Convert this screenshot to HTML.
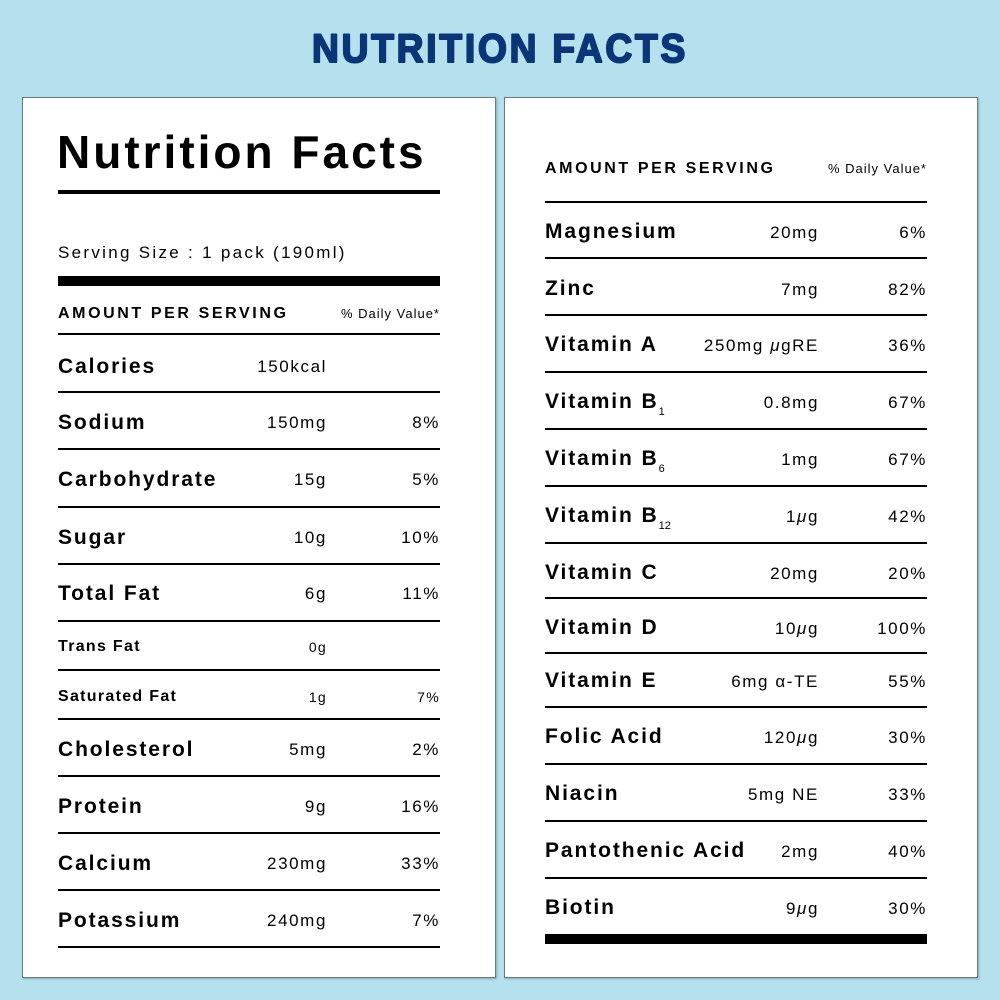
<!DOCTYPE html>
<html><head><meta charset="utf-8"><style>
body{margin:0;width:1000px;height:1000px;background:#b5e0ed;position:relative;overflow:hidden;font-family:"Liberation Sans",sans-serif;color:#000}
.p{position:absolute;background:#fff;border:1px solid #6f7a80;box-shadow:1px 1px 2px rgba(0,0,0,.25)}
.a{position:absolute;white-space:nowrap;height:30px;line-height:30px;margin-top:2px}
.l{font-size:21px;font-weight:bold;letter-spacing:1.9px}
.s{font-size:16px;font-weight:bold;letter-spacing:1.3px}
.v{font-size:17px;letter-spacing:1.6px;text-align:right}
.vs{font-size:14px;letter-spacing:1.3px;text-align:right}
.h{position:absolute;background:#000}
sub{font-size:11px;font-weight:normal;vertical-align:-7px;line-height:0;letter-spacing:0}
</style></head><body>
<svg style="position:absolute;left:0;top:0" width="1000" height="90"><text x="500" y="62" text-anchor="middle" textLength="376" lengthAdjust="spacingAndGlyphs" font-family="Liberation Sans" font-weight="bold" font-size="40" letter-spacing="3" fill="#0b3577" stroke="#0b3577" stroke-width="2" stroke-linejoin="round">NUTRITION FACTS</text></svg>
<div class="p" style="left:22px;top:97px;width:472px;height:879px"></div>
<div class="p" style="left:504px;top:97px;width:472px;height:879px"></div>

<!-- left -->
<div class="a" style="left:57px;top:123px;height:54px;line-height:54px;font-size:46px;font-weight:bold;letter-spacing:3px">Nutrition Facts</div>
<div class="h" style="left:58px;top:190px;width:382px;height:4px"></div>
<div class="a" style="left:58px;top:236px;font-size:17px;letter-spacing:2.3px">Serving Size : 1 pack (190ml)</div>
<div class="h" style="left:58px;top:276px;width:382px;height:10px"></div>
<div class="a" style="left:58px;top:297px;font-size:16px;font-weight:bold;letter-spacing:2.6px">AMOUNT PER SERVING</div>
<div class="a" style="right:560px;top:297px;font-size:13px;letter-spacing:1px">% Daily Value*</div>
<div class="h" style="left:58px;top:333px;width:382px;height:2px"></div>

<div class="a l" style="left:58px;top:350px">Calories</div><div class="a v" style="right:673px;top:350px">150kcal</div>
<div class="h" style="left:58px;top:391px;width:382px;height:2px"></div>
<div class="a l" style="left:58px;top:406px">Sodium</div><div class="a v" style="right:673px;top:406px">150mg</div><div class="a v" style="right:560px;top:406px">8%</div>
<div class="h" style="left:58px;top:448px;width:382px;height:2px"></div>
<div class="a l" style="left:58px;top:463px">Carbohydrate</div><div class="a v" style="right:673px;top:463px">15g</div><div class="a v" style="right:560px;top:463px">5%</div>
<div class="h" style="left:58px;top:506px;width:382px;height:2px"></div>
<div class="a l" style="left:58px;top:521px">Sugar</div><div class="a v" style="right:673px;top:521px">10g</div><div class="a v" style="right:560px;top:521px">10%</div>
<div class="h" style="left:58px;top:563px;width:382px;height:2px"></div>
<div class="a l" style="left:58px;top:577px">Total Fat</div><div class="a v" style="right:673px;top:577px">6g</div><div class="a v" style="right:560px;top:577px">11%</div>
<div class="h" style="left:58px;top:620px;width:382px;height:2px"></div>
<div class="a s" style="left:58px;top:630px">Trans Fat</div><div class="a vs" style="right:673px;top:630px">0g</div>
<div class="h" style="left:58px;top:669px;width:382px;height:2px"></div>
<div class="a s" style="left:58px;top:680px">Saturated Fat</div><div class="a vs" style="right:673px;top:680px">1g</div><div class="a vs" style="right:560px;top:680px">7%</div>
<div class="h" style="left:58px;top:718px;width:382px;height:2px"></div>
<div class="a l" style="left:58px;top:733px">Cholesterol</div><div class="a v" style="right:673px;top:733px">5mg</div><div class="a v" style="right:560px;top:733px">2%</div>
<div class="h" style="left:58px;top:775px;width:382px;height:2px"></div>
<div class="a l" style="left:58px;top:790px">Protein</div><div class="a v" style="right:673px;top:790px">9g</div><div class="a v" style="right:560px;top:790px">16%</div>
<div class="h" style="left:58px;top:832px;width:382px;height:2px"></div>
<div class="a l" style="left:58px;top:847px">Calcium</div><div class="a v" style="right:673px;top:847px">230mg</div><div class="a v" style="right:560px;top:847px">33%</div>
<div class="h" style="left:58px;top:889px;width:382px;height:2px"></div>
<div class="a l" style="left:58px;top:904px">Potassium</div><div class="a v" style="right:673px;top:904px">240mg</div><div class="a v" style="right:560px;top:904px">7%</div>
<div class="h" style="left:58px;top:946px;width:382px;height:2px"></div>

<!-- right -->
<div class="a" style="left:545px;top:152px;font-size:16px;font-weight:bold;letter-spacing:2.6px">AMOUNT PER SERVING</div>
<div class="a" style="right:73px;top:152px;font-size:13px;letter-spacing:1px">% Daily Value*</div>
<div class="h" style="left:545px;top:201px;width:382px;height:2px"></div>
<div class="a l" style="left:545px;top:215px">Magnesium</div><div class="a v" style="right:181px;top:216px">20mg</div><div class="a v" style="right:73px;top:216px">6%</div>
<div class="h" style="left:545px;top:257px;width:382px;height:2px"></div>
<div class="a l" style="left:545px;top:272px">Zinc</div><div class="a v" style="right:181px;top:273px">7mg</div><div class="a v" style="right:73px;top:273px">82%</div>
<div class="h" style="left:545px;top:314px;width:382px;height:2px"></div>
<div class="a l" style="left:545px;top:328px">Vitamin A</div><div class="a v" style="right:181px;top:329px">250mg <i>μ</i>gRE</div><div class="a v" style="right:73px;top:329px">36%</div>
<div class="h" style="left:545px;top:371px;width:382px;height:2px"></div>
<div class="a l" style="left:545px;top:385px">Vitamin B<sub>1</sub></div><div class="a v" style="right:181px;top:386px">0.8mg</div><div class="a v" style="right:73px;top:386px">67%</div>
<div class="h" style="left:545px;top:428px;width:382px;height:2px"></div>
<div class="a l" style="left:545px;top:442px">Vitamin B<sub>6</sub></div><div class="a v" style="right:181px;top:443px">1mg</div><div class="a v" style="right:73px;top:443px">67%</div>
<div class="h" style="left:545px;top:485px;width:382px;height:2px"></div>
<div class="a l" style="left:545px;top:499px">Vitamin B<sub>12</sub></div><div class="a v" style="right:181px;top:500px">1<i>μ</i>g</div><div class="a v" style="right:73px;top:500px">42%</div>
<div class="h" style="left:545px;top:542px;width:382px;height:2px"></div>
<div class="a l" style="left:545px;top:556px">Vitamin C</div><div class="a v" style="right:181px;top:557px">20mg</div><div class="a v" style="right:73px;top:557px">20%</div>
<div class="h" style="left:545px;top:597px;width:382px;height:2px"></div>
<div class="a l" style="left:545px;top:611px">Vitamin D</div><div class="a v" style="right:181px;top:612px">10<i>μ</i>g</div><div class="a v" style="right:73px;top:612px">100%</div>
<div class="h" style="left:545px;top:652px;width:382px;height:2px"></div>
<div class="a l" style="left:545px;top:664px">Vitamin E</div><div class="a v" style="right:181px;top:665px">6mg α-TE</div><div class="a v" style="right:73px;top:665px">55%</div>
<div class="h" style="left:545px;top:706px;width:382px;height:2px"></div>
<div class="a l" style="left:545px;top:720px">Folic Acid</div><div class="a v" style="right:181px;top:721px">120<i>μ</i>g</div><div class="a v" style="right:73px;top:721px">30%</div>
<div class="h" style="left:545px;top:763px;width:382px;height:2px"></div>
<div class="a l" style="left:545px;top:777px">Niacin</div><div class="a v" style="right:181px;top:778px">5mg NE</div><div class="a v" style="right:73px;top:778px">33%</div>
<div class="h" style="left:545px;top:820px;width:382px;height:2px"></div>
<div class="a l" style="left:545px;top:834px">Pantothenic Acid</div><div class="a v" style="right:181px;top:835px">2mg</div><div class="a v" style="right:73px;top:835px">40%</div>
<div class="h" style="left:545px;top:877px;width:382px;height:2px"></div>
<div class="a l" style="left:545px;top:891px">Biotin</div><div class="a v" style="right:181px;top:892px">9<i>μ</i>g</div><div class="a v" style="right:73px;top:892px">30%</div>
<div class="h" style="left:545px;top:934px;width:382px;height:10px"></div>
</body></html>
